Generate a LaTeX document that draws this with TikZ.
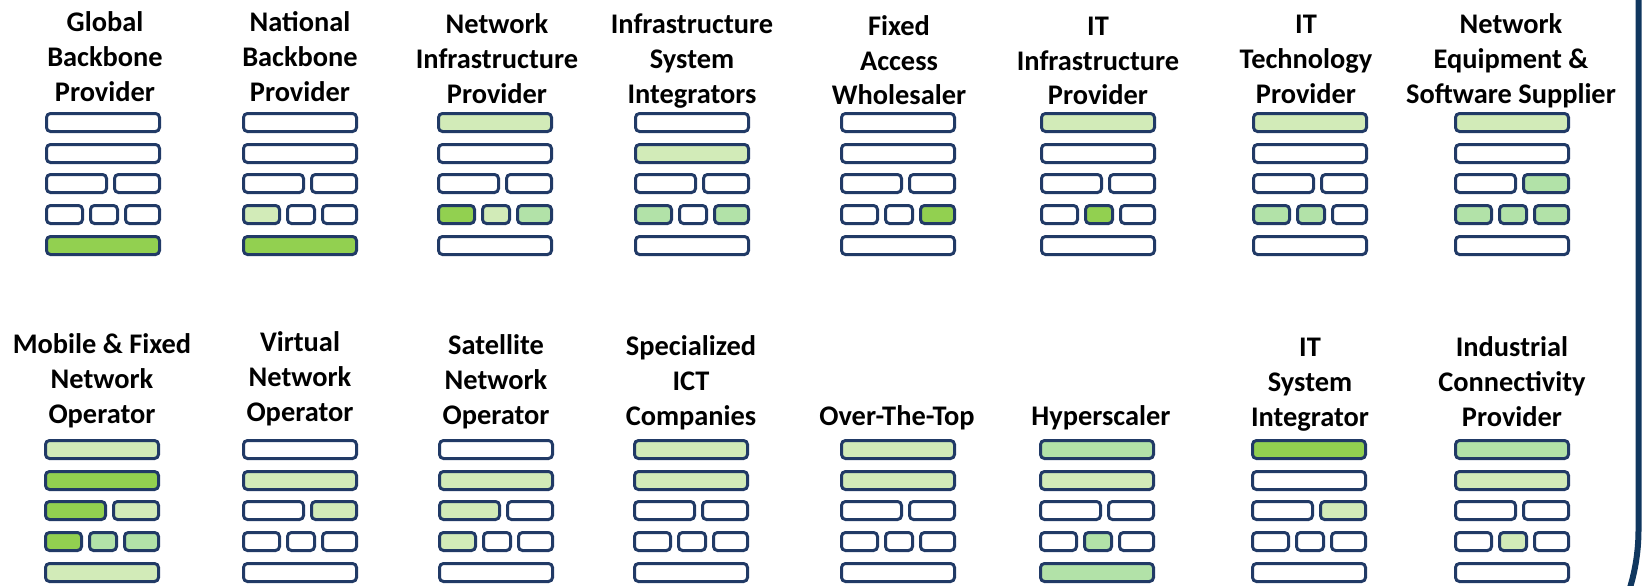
\documentclass[tikz,border=0pt]{standalone}
\usepackage{fontspec}
\setmainfont{Carlito}
\definecolor{edge}{HTML}{213A66}
\definecolor{frame}{HTML}{10375F}
\definecolor{cw}{HTML}{FFFFFF}
\definecolor{cg}{HTML}{92D050}
\definecolor{cl}{HTML}{D2EBB8}
\definecolor{cm}{HTML}{B2E2A8}
\tikzset{
  cell/.style={draw=edge, line width=3pt, rounded corners=4pt, inner sep=0pt, outer sep=0pt, minimum height=18pt},
  lbl/.style={font=\bfseries\fontsize{28.4}{35}\selectfont, align=center, anchor=base, inner sep=0pt, text=black},
}
% one cell: name, left, right (outer, relative), row top (relative), fill
\newcommand\cellnode[5]{%
  \node[cell, fill=#5, minimum width={#3-#2-3}] (\sid-#1) at ({\sL+(#2+#3)/2},{\sT+#4+10.5}) {};}
\newcommand\stackfills[8]{%
  \cellnode{1}{0}{116}{0}{#1}%
  \cellnode{2}{0}{116}{31}{#2}%
  \cellnode{3a}{0}{63}{61}{#3}%
  \cellnode{3b}{68}{116}{61}{#4}%
  \cellnode{4a}{0}{39}{92}{#5}%
  \cellnode{4b}{44}{74}{92}{#6}%
  \cellnode{4c}{79}{116}{92}{#7}%
  \cellnode{5}{0}{116}{123}{#8}}
\newcommand\stack[4]{\def\sid{#1}\def\sL{#2}\def\sT{#3}\stackfills#4}
\begin{document}
\begin{tikzpicture}[x=1pt,y=-1pt]
\useasboundingbox (0,0) rectangle (1642,586);
% top row
\stack{a1}{45}{112}{{cw}{cw}{cw}{cw}{cw}{cw}{cw}{cg}}
\stack{a2}{242}{112}{{cw}{cw}{cw}{cw}{cl}{cw}{cw}{cg}}
\stack{a3}{437}{112}{{cl}{cw}{cw}{cw}{cg}{cl}{cm}{cw}}
\stack{a4}{634}{112}{{cw}{cl}{cw}{cw}{cm}{cw}{cm}{cw}}
\stack{a5}{840}{112}{{cw}{cw}{cw}{cw}{cw}{cw}{cg}{cw}}
\stack{a6}{1040}{112}{{cl}{cw}{cw}{cw}{cw}{cg}{cw}{cw}}
\stack{a7}{1252}{112}{{cl}{cw}{cw}{cw}{cm}{cm}{cw}{cw}}
\stack{a8}{1454}{112}{{cl}{cw}{cw}{cm}{cm}{cm}{cm}{cw}}
% bottom row
\stack{b1}{44}{439}{{cl}{cg}{cg}{cl}{cg}{cm}{cm}{cl}}
\stack{b2}{242}{439}{{cw}{cl}{cw}{cl}{cw}{cw}{cw}{cw}}
\stack{b3}{438}{439}{{cw}{cl}{cl}{cw}{cl}{cw}{cw}{cw}}
\stack{b4}{633}{439}{{cl}{cl}{cw}{cw}{cw}{cw}{cw}{cw}}
\stack{b5}{840}{439}{{cl}{cl}{cw}{cw}{cw}{cw}{cw}{cw}}
\stack{b6}{1039}{439}{{cm}{cl}{cw}{cw}{cw}{cm}{cw}{cm}}
\stack{b7}{1251}{439}{{cg}{cw}{cw}{cl}{cw}{cw}{cw}{cw}}
\stack{b8}{1454}{439}{{cm}{cl}{cw}{cw}{cw}{cl}{cw}{cw}}
% labels top (anchor = baseline of last line)
\node[lbl] (ta1) at (105,101) {Global\\Backbone\\Provider};
\node[lbl] (ta2) at (300,101) {National\\Backbone\\Provider};
\node[lbl] (ta3) at (497,103) {Network\\Infrastructure\\Provider};
\node[lbl] (ta4) at (692,103) {Infrastructure\\System\\Integrators};
\node[lbl] (ta5) at (899,105) {Fixed\\Access\\Wholesaler};
\node[lbl] (ta6) at (1098,105) {IT\\Infrastructure\\Provider};
\node[lbl] (ta7) at (1306,103) {IT\\Technology\\Provider};
\node[lbl] (ta8) at (1511,103) {Network\\Equipment \&\\Software Supplier};
% labels bottom
\node[lbl] (tb1) at (102,423) {Mobile \& Fixed\\Network\\Operator};
\node[lbl] (tb2) at (300,421) {Virtual\\Network\\Operator};
\node[lbl] (tb3) at (496,424) {Satellite\\Network\\Operator};
\node[lbl] (tb4) at (691,425) {Specialized\\ICT\\Companies};
\node[lbl] (tb5) at (897,425) {Over-The-Top};
\node[lbl] (tb6) at (1101,425) {Hyperscaler};
\node[lbl] (tb7) at (1310,426) {IT\\System\\Integrator};
\node[lbl] (tb8) at (1512,426) {Industrial\\Connectivity\\Provider};
% panel frame at right
\draw[frame, line width=6pt] (1638.5,-10) -- (1638.5,530) arc[start angle=0, end angle=20, radius=200];
\end{tikzpicture}
\end{document}
